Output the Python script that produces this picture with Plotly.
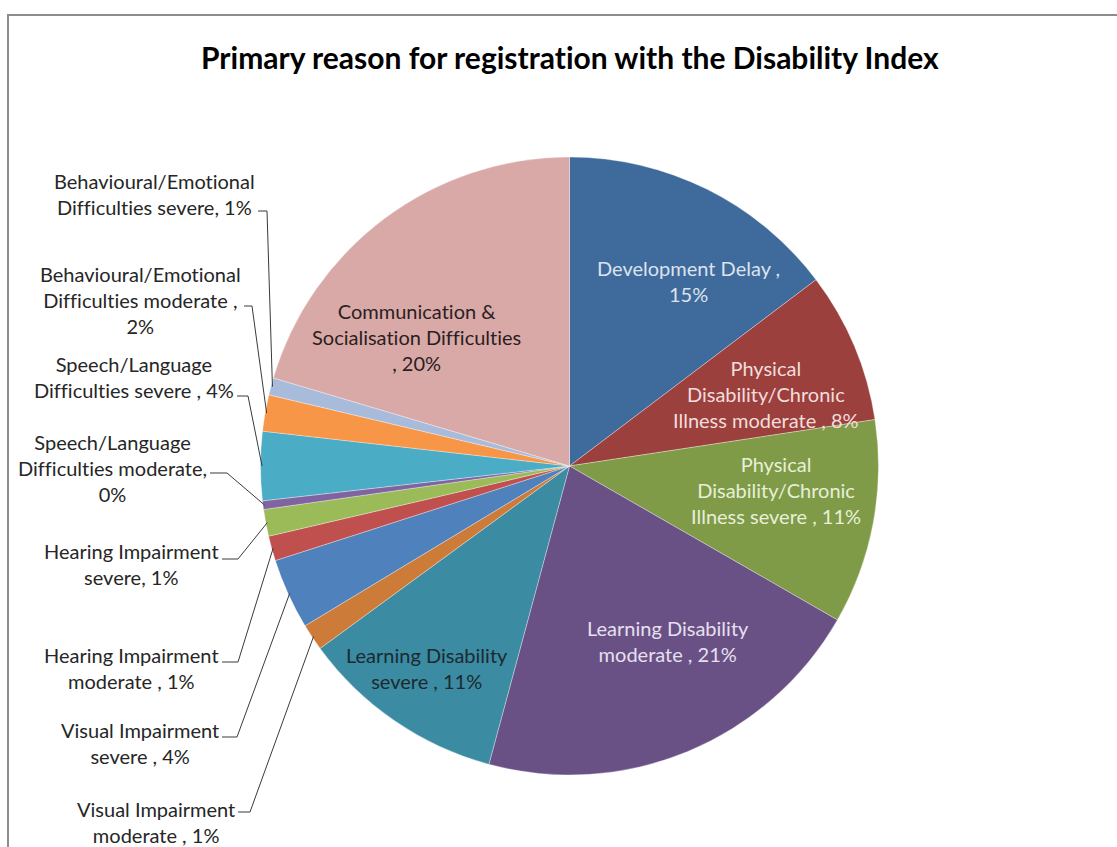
import math
import plotly.graph_objects as go

W, H = 1117, 847

# Primary reason for registration (share of registrations, %), clockwise from 12 o'clock
categories = [
    "Development Delay",
    "Physical Disability/Chronic Illness moderate",
    "Physical Disability/Chronic Illness severe",
    "Learning Disability moderate",
    "Learning Disability severe",
    "Visual Impairment moderate",
    "Visual Impairment severe",
    "Hearing Impairment moderate",
    "Hearing Impairment severe",
    "Speech/Language Difficulties moderate",
    "Speech/Language Difficulties severe",
    "Behavioural/Emotional Difficulties moderate",
    "Behavioural/Emotional Difficulties severe",
    "Communication & Socialisation Difficulties",
]
shares = [14.7, 7.9, 10.7, 20.9, 10.75, 1.4, 3.7, 1.3, 1.4, 0.45, 3.6, 1.9, 0.9, 20.4]

colors = [
    "#3F6A9C", "#9C403E", "#7F9B47", "#695186", "#3B8BA2", "#CC7B38", "#4F81BD",
    "#C0504D", "#9BBB59", "#8064A2", "#4BACC6", "#F79646", "#A9BBDB", "#D9A9A8",
]

# Label text layout: line breaks and separator for each category
label_lines = [
    ["Development Delay ,", "{p}"],
    ["Physical", "Disability/Chronic", "Illness moderate , {p}"],
    ["Physical", "Disability/Chronic", "Illness severe , {p}"],
    ["Learning Disability", "moderate , {p}"],
    ["Learning Disability", "severe , {p}"],
    ["Visual Impairment", "moderate , {p}"],
    ["Visual Impairment", "severe , {p}"],
    ["Hearing Impairment", "moderate , {p}"],
    ["Hearing Impairment", "severe, {p}"],
    ["Speech/Language", "Difficulties moderate,", "{p}"],
    ["Speech/Language", "Difficulties severe , {p}"],
    ["Behavioural/Emotional", "Difficulties moderate ,", "{p}"],
    ["Behavioural/Emotional", "Difficulties severe, {p}"],
    ["Communication &", "Socialisation Difficulties", ", {p}"],
]

# Pie geometry in pixels
CX, CY, R = 569.5, 466.0, 309.0

def px(x):
    return x / W

def py(y):
    return 1 - y / H

total = sum(shares)
starts = []
acc = 0.0
for v in shares:
    starts.append(acc)
    acc += v
mid_angles = [(s + v / 2) / total * 360.0 for s, v in zip(starts, shares)]

def edge_point(angle_deg, rfrac=1.0):
    a = math.radians(angle_deg)
    return CX + R * rfrac * math.sin(a), CY - R * rfrac * math.cos(a)

def no_lig(s):
    # keep "ti" / "ff" / "fi" as separate glyphs
    for pair in ("ti", "ff", "fi", "fl"):
        s = s.replace(pair, pair[0] + "\u200c" + pair[1])
    return s

def label_text(i):
    pct = f"{round(shares[i] / total * 100):d}%"
    return no_lig("<br>".join(line.format(p=pct) for line in label_lines[i]))

fig = go.Figure(
    go.Pie(
        labels=categories,
        values=shares,
        sort=False,
        direction="clockwise",
        rotation=0,
        marker=dict(colors=colors, line=dict(color="rgba(255,255,255,0.55)", width=0.6)),
        textinfo="none",
        hoverinfo="label+percent",
        domain=dict(x=[px(CX - R), px(CX + R)], y=[py(CY + R), py(CY - R)]),
    )
)

FONT = "Lato, Carlito, Calibri, sans-serif"
FS = 20
annotations = []

# Labels drawn on top of the large slices: (index, centre x, centre y, colour)
inside = [
    (0, 689, 281, "#DCE3EE"),
    (1, 766, 394, "#F2DDDC"),
    (2, 776, 490, "#E8EFD9"),
    (3, 668, 641, "#E6E0EE"),
    (4, 427, 668, "#1B2A30"),
    (13, 416, 337, "#2A1E1E"),
]
for i, x, y, c in inside:
    annotations.append(dict(
        x=px(x), y=py(y), xref="paper", yref="paper", text=label_text(i),
        showarrow=False, xanchor="center", yanchor="middle", align="center",
        font=dict(family=FONT, size=FS, color=c),
    ))

# Labels placed left of the pie with elbow leader lines:
# (index, text right edge x, text centre y, leader y, elbow x)
outside = [
    (12, 257, 194, 211, 267),
    (11, 243, 300, 306, 252),
    (10, 236, 377, 396, 248),
    (9, 209, 468, 473, 227),
    (8, 221, 564, 559, 238),
    (7, 221, 668, 662, 238),
    (6, 221, 743, 737, 237),
    (5, 237, 822, 812, 250),
]
shapes = []
for i, xr, yc, yl, xe in outside:
    annotations.append(dict(
        x=px(xr), y=py(yc), xref="paper", yref="paper", text=label_text(i),
        showarrow=False, xanchor="right", yanchor="middle", align="center",
        font=dict(family=FONT, size=FS, color="#262626"),
    ))
    ex, ey = edge_point(mid_angles[i], 0.995)
    path = f"M {px(xr + 1)} {py(yl)} L {px(xe)} {py(yl)} L {px(ex)} {py(ey)}"
    shapes.append(dict(type="path", xref="paper", yref="paper", path=path,
                       line=dict(color="#3A3A3A", width=1)))

# Chart area frame
shapes.append(dict(type="rect", xref="paper", yref="paper",
                   x0=px(8), x1=px(W + 20), y0=py(H + 20), y1=py(15),
                   line=dict(color="#8C8C8C", width=2), fillcolor="rgba(0,0,0,0)", layer="below"))

annotations.append(dict(
    x=px(570), y=py(57), xref="paper", yref="paper",
    text="<b>" + no_lig("Primary reason for registration with the Disability Index") + "</b>",
    showarrow=False, xanchor="center", yanchor="middle",
    font=dict(family=FONT, size=30, color="#000000"),
))

fig.update_layout(
    width=W, height=H,
    margin=dict(l=0, r=0, t=0, b=0),
    paper_bgcolor="white",
    plot_bgcolor="white",
    showlegend=False,
    annotations=annotations,
    shapes=shapes,
)

fig.write_html("out.html")
